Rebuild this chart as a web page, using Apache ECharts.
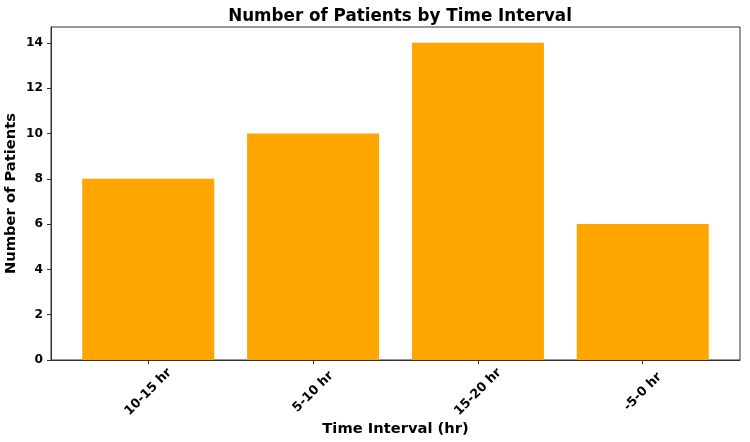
<!DOCTYPE html>
<html>
<head>
<meta charset="utf-8">
<script src="https://cdn.jsdelivr.net/npm/echarts@6/dist/echarts.min.js"></script>
<style>html,body{margin:0;padding:0;background:#fff}#c{width:750px;height:442px}</style>
</head>
<body>
<div id="c"></div>
<script>
const categories = ['10-15 hr', '5-10 hr', '15-20 hr', '-5-0 hr'];
const patients = [8, 10, 14, 6];
const yTicks = [0, 2, 4, 6, 8, 10, 12, 14];

const chart = echarts.init(document.getElementById('c'), null, {renderer: 'canvas'});
const font = 'DejaVu Sans';
const axisColor = '#333';
const catIdx = categories.map((_, i) => i);

chart.setOption({
  animation: false,
  backgroundColor: '#fff',
  title: {
    text: 'Number of Patients by Time Interval',
    left: 395, top: 3, textAlign: 'center',
    textStyle: {fontFamily: font, fontWeight: 'bold', fontSize: 16.75, color: '#000'}
  },
  grid: {left: 51, right: 10, top: 27, bottom: 82, show: true, borderColor: axisColor, borderWidth: 1,
         containLabel: false, outerBoundsMode: 'none'},
  xAxis: {
    type: 'value', min: -0.59, max: 3.59,
    splitLine: {show: false},
    axisLine: {show: true, onZero: false, lineStyle: {color: axisColor}},
    axisTick: {show: true, customValues: catIdx, length: 4, lineStyle: {color: axisColor}},
    axisLabel: {
      customValues: catIdx, rotate: 45, margin: 32, align: 'center', verticalAlign: 'middle',
      formatter: v => categories[Math.round(v)],
      fontFamily: font, fontWeight: 'bold', fontSize: 12.7, color: '#000'
    },
    name: 'Time Interval (hr)', nameLocation: 'middle', nameGap: 62, nameMoveOverlap: false,
    nameTextStyle: {fontFamily: font, fontWeight: 'bold', fontSize: 14.7, color: '#000'}
  },
  yAxis: {
    type: 'value', min: 0, max: 14.7,
    splitLine: {show: false},
    axisLine: {show: true, onZero: false, lineStyle: {color: axisColor}},
    axisTick: {show: true, customValues: yTicks, length: 4, lineStyle: {color: axisColor}},
    axisLabel: {customValues: yTicks, margin: 8, fontFamily: font, fontWeight: 'bold', fontSize: 12.2, color: '#000'},
    name: 'Number of Patients', nameLocation: 'middle', nameGap: 32, nameRotate: 90, nameMoveOverlap: false,
    nameTextStyle: {fontFamily: font, fontWeight: 'bold', fontSize: 14.7, color: '#000'}
  },
  series: [{
    type: 'bar',
    data: patients.map((v, i) => [i, v]),
    barWidth: 132,
    itemStyle: {color: '#FFA500'}
  }]
});
</script>
</body>
</html>
